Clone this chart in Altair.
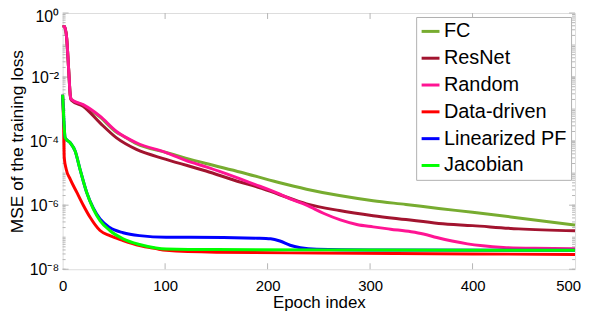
import altair as alt
import pandas as pd

series_names = ["FC", "ResNet", "Random", "Data-driven", "Linearized PF", "Jacobian"]
series_colors = ["#77AC30", "#A2142F", "#FF1493", "#FF0000", "#0000FF", "#00FF00"]

fc_epoch = [0, 2, 4, 6, 7.4, 8.5, 20, 36.5, 52.6, 59, 72, 101, 120, 140, 174, 210, 238, 270, 303, 335, 367, 400, 445, 500]
fc_mse = [3.7e-1, 3.8e-1, 1.6e-1, 1.5e-2, 2.8e-3, 2.0e-3, 1.32e-3, 5.6e-4, 1.9e-4, 1.45e-4, 8.3e-5, 4.4e-5, 2.95e-5, 2.0e-5, 1.07e-5, 5.2e-6, 3.16e-6, 2.0e-6, 1.38e-6, 1.05e-6, 7.9e-7, 6.0e-7, 4.0e-7, 2.4e-7]

resnet_epoch = [0, 2, 4, 6, 7.4, 8.5, 20, 36.5, 52.6, 72, 101, 140, 174, 188, 210, 238, 270, 303, 335, 367, 400, 445, 500]
resnet_mse = [3.7e-1, 3.8e-1, 1.6e-1, 1.5e-2, 2.8e-3, 1.9e-3, 1.23e-3, 3.7e-4, 1.26e-4, 5.5e-5, 2.7e-5, 1.17e-5, 5.2e-6, 3.9e-6, 2.24e-6, 1.1e-6, 6.8e-7, 4.7e-7, 3.55e-7, 2.7e-7, 2.3e-7, 1.82e-7, 1.58e-7]

random_epoch = [0, 2, 4, 6, 7.4, 8.5, 20, 36.5, 52.6, 72, 101, 125, 140, 160, 174, 188, 200, 212, 222, 238, 255, 271, 287, 303, 320, 340, 352, 365, 380, 395, 410, 430, 460, 500]
random_mse = [3.7e-1, 3.8e-1, 1.6e-1, 1.5e-2, 2.8e-3, 2.0e-3, 1.38e-3, 6.0e-4, 2.0e-4, 8.9e-5, 4.4e-5, 2.2e-5, 1.58e-5, 9.5e-6, 6.5e-6, 4.4e-6, 3.16e-6, 2.2e-6, 1.58e-6, 1.0e-6, 5.5e-7, 3.47e-7, 2.5e-7, 2.1e-7, 1.78e-7, 1.48e-7, 1.26e-7, 9.8e-8, 7.6e-8, 6.2e-8, 5.4e-8, 4.8e-8, 4.5e-8, 4.4e-8]

datadriven_epoch = [0, 1, 1.6, 3.5, 7.4, 13.9, 20.3, 26.8, 36.5, 46, 59, 75, 91, 101, 150, 250, 400, 500]
datadriven_mse = [2.8e-3, 3.0e-4, 3.0e-5, 1.32e-5, 6.5e-6, 2.5e-6, 9.8e-7, 4.2e-7, 1.62e-7, 1.12e-7, 7.9e-8, 5.5e-8, 4.4e-8, 3.9e-8, 3.4e-8, 3.2e-8, 3.0e-8, 2.9e-8]

linpf_epoch = [0, 1, 2.5, 7.4, 12.2, 17, 23.5, 30, 36.5, 46, 59, 75, 101, 125, 190, 203, 212, 222, 232, 248, 300, 500]
linpf_mse = [2.8e-3, 6.0e-4, 1.26e-4, 8.9e-5, 4.9e-5, 1.32e-5, 2.5e-6, 8.0e-7, 3.7e-7, 2.0e-7, 1.38e-7, 1.12e-7, 1.0e-7, 1.0e-7, 9.3e-8, 8.9e-8, 7.6e-8, 5.6e-8, 4.7e-8, 4.2e-8, 4.0e-8, 3.9e-8]

jacobian_epoch = [0, 1, 2.5, 7.4, 12.2, 17, 23.5, 30, 36.5, 46, 59, 75, 91, 101, 150, 300, 500]
jacobian_mse = [2.8e-3, 6.0e-4, 1.26e-4, 8.9e-5, 4.9e-5, 1.32e-5, 2.5e-6, 7.6e-7, 3.3e-7, 1.62e-7, 8.9e-8, 5.9e-8, 4.6e-8, 4.3e-8, 4.1e-8, 4.0e-8, 3.9e-8]

x_tick_values = [0, 100, 200, 300, 400, 500]
y_tick_values = [1e-8, 1e-6, 1e-4, 1e-2, 1]
y_tick_labels = ["10⁻⁸", "10⁻⁶", "10⁻⁴", "10⁻²", "10⁰"]
y_minor_values = [k * 10.0 ** e for e in range(-8, 0) for k in range(1, 10)]

series_data = [
    (fc_epoch, fc_mse),
    (resnet_epoch, resnet_mse),
    (random_epoch, random_mse),
    (datadriven_epoch, datadriven_mse),
    (linpf_epoch, linpf_mse),
    (jacobian_epoch, jacobian_mse),
]

FONT = "Liberation Sans"
W, H = 516, 258

label_expr = ""
for v, lab in zip(y_tick_values[:-1], y_tick_labels[:-1]):
    label_expr += f"datum.value < {v * 5:g} ? '{lab}' : "
label_expr += f"'{y_tick_labels[-1]}'"

x_scale = alt.Scale(domain=[0, 500], nice=False)
y_scale = alt.Scale(type="log", domain=[1e-8, 1], nice=False)
color_scale = alt.Scale(domain=series_names, range=series_colors)

x_axis = alt.Axis(values=x_tick_values, ticks=False, domain=False, grid=False,
                  labelFontSize=15, labelPadding=9, title="Epoch index",
                  titleFontSize=17, titlePadding=2, labelFlush=False,
                  titleFontWeight="normal",
                  labelOffset={"condition": {"test": "datum.value >= 450", "value": -7}, "value": 0})
y_axis = alt.Axis(values=y_tick_values, labelExpr=label_expr, ticks=False, domain=False,
                  grid=False, labelFontSize=16, labelPadding=4,
                  title="MSE of the training loss", titleFontSize=17.5, titlePadding=3,
                  titleFontWeight="normal",
                  labelOffset={"condition": {"test": "datum.value >= 0.5", "value": 4}, "value": 0})

layers = []

# inward tick marks (box style)
minor_df = pd.DataFrame({"v": y_minor_values})
major_df = pd.DataFrame({"v": y_tick_values})
xt_df = pd.DataFrame({"t": x_tick_values[1:-1]})
tick_color = "#b5b5b5"
for df, ln in ((minor_df, 3), (major_df, 6)):
    for x0, x1 in ((0, ln), (W, W - ln)):
        layers.append(alt.Chart(df).mark_rule(color=tick_color, strokeWidth=1).encode(
            y=alt.Y("v:Q", scale=y_scale, axis=y_axis),
            x=alt.value(x0), x2=alt.value(x1)))
for y0, y1 in ((H, H - 6), (0, 6)):
    layers.append(alt.Chart(xt_df).mark_rule(color=tick_color, strokeWidth=1).encode(
        x=alt.X("t:Q", scale=x_scale, axis=x_axis),
        y=alt.value(y0), y2=alt.value(y1)))

legend = alt.Legend(orient="top-right", offset=4, title=None, symbolType="stroke",
                    symbolStrokeWidth=3, symbolSize=324, labelFontSize=20, labelFont=FONT,
                    labelColor="black", strokeColor="#b0b0b0", fillColor="white",
                    padding=4, rowPadding=6, labelOffset=3, labelLimit=0,
                    symbolOpacity=1)

for i, (name, (ep, vals)) in enumerate(zip(series_names, series_data)):
    df = pd.DataFrame({"epoch": ep, "mse": vals, "series": name})
    layers.append(
        alt.Chart(df).mark_line(strokeWidth=3, interpolate="monotone").encode(
            x=alt.X("epoch:Q", scale=x_scale, axis=x_axis),
            y=alt.Y("mse:Q", scale=y_scale, axis=y_axis),
            color=alt.Color("series:N", scale=color_scale, legend=legend),
        )
    )

chart = alt.layer(*layers).properties(
    width=W, height=H,
    padding={"left": 0, "top": 0, "right": 0, "bottom": 0},
).configure_view(stroke="#b0b0b0", strokeWidth=1).configure_axis(
    labelFont=FONT, titleFont=FONT,
    labelColor="#1a1a1a", titleColor="#1a1a1a",
).configure(background="white")

chart.save("out.html", embed_options={"renderer": "svg", "actions": False})
